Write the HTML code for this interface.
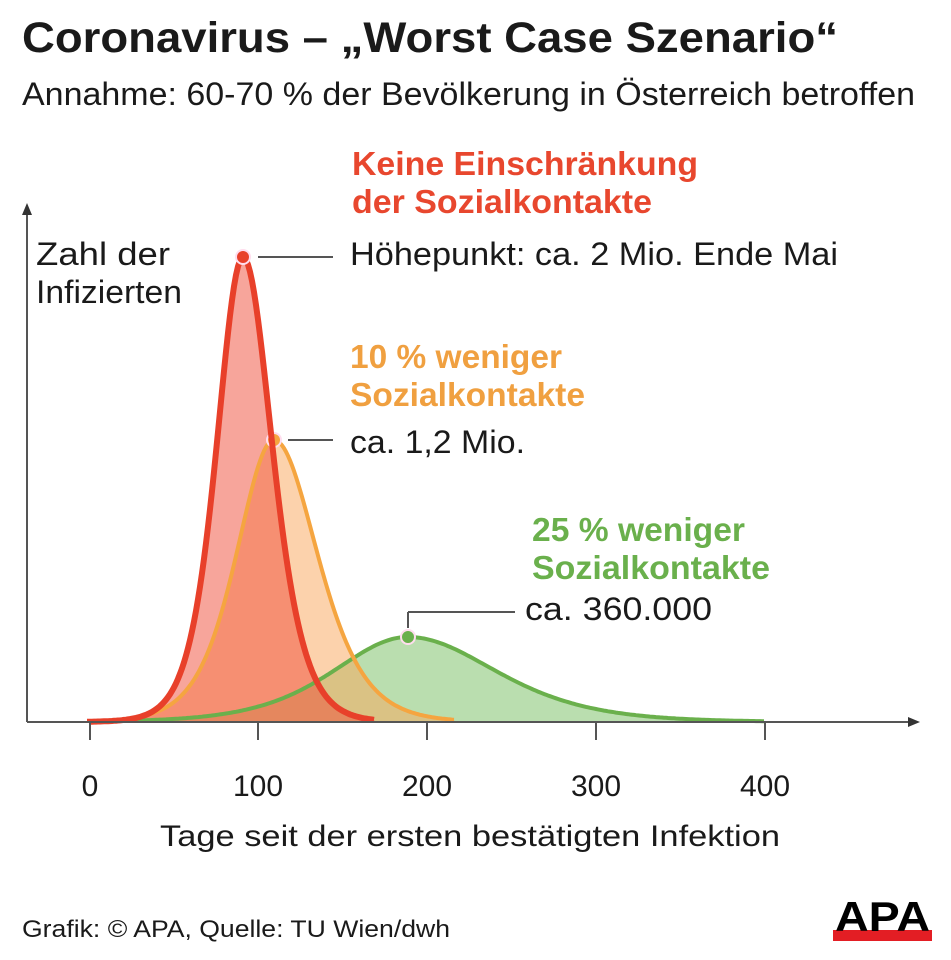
<!DOCTYPE html>
<html><head><meta charset="utf-8"><style>
body{margin:0;background:#fff;}
svg{display:block;font-family:"Liberation Sans",sans-serif;}
</style></head><body>
<svg id="s" width="951" height="960" viewBox="0 0 951 960">
<text x="22" y="52" font-size="43" font-weight="bold" fill="#1a1a1a" textLength="816" lengthAdjust="spacingAndGlyphs">Coronavirus – „Worst Case Szenario“</text>
<text x="22" y="105" font-size="32" fill="#1a1a1a" textLength="893" lengthAdjust="spacingAndGlyphs">Annahme: 60-70 % der Bevölkerung in Österreich betroffen</text>
<text x="352" y="175" font-size="33" font-weight="bold" fill="#e8472e" textLength="346" lengthAdjust="spacingAndGlyphs">Keine Einschränkung</text>
<text x="352" y="213" font-size="33" font-weight="bold" fill="#e8472e" textLength="300" lengthAdjust="spacingAndGlyphs">der Sozialkontakte</text>
<text x="350" y="265" font-size="32" fill="#1a1a1a" textLength="488" lengthAdjust="spacingAndGlyphs">Höhepunkt: ca. 2 Mio. Ende Mai</text>
<text x="36" y="265" font-size="32" fill="#1a1a1a" textLength="134" lengthAdjust="spacingAndGlyphs">Zahl der</text>
<text x="36" y="303" font-size="32" fill="#1a1a1a" textLength="146" lengthAdjust="spacingAndGlyphs">Infizierten</text>
<text x="350" y="368" font-size="33" font-weight="bold" fill="#f0a040" textLength="212" lengthAdjust="spacingAndGlyphs">10 % weniger</text>
<text x="350" y="406" font-size="33" font-weight="bold" fill="#f0a040" textLength="235" lengthAdjust="spacingAndGlyphs">Sozialkontakte</text>
<text x="350" y="453" font-size="32" fill="#1a1a1a" textLength="175" lengthAdjust="spacingAndGlyphs">ca. 1,2 Mio.</text>
<text x="532" y="541" font-size="33" font-weight="bold" fill="#6ab04c" textLength="213" lengthAdjust="spacingAndGlyphs">25 % weniger</text>
<text x="532" y="579" font-size="33" font-weight="bold" fill="#6ab04c" textLength="238" lengthAdjust="spacingAndGlyphs">Sozialkontakte</text>
<text x="525" y="620" font-size="32" fill="#1a1a1a" textLength="187" lengthAdjust="spacingAndGlyphs">ca. 360.000</text>
<g id="curves"></g>
<g stroke="#555" stroke-width="2" fill="none">
<line x1="27" y1="722" x2="915" y2="722"/>
<line x1="27" y1="722" x2="27" y2="210"/>
<line x1="90" y1="722" x2="90" y2="740"/><line x1="258" y1="722" x2="258" y2="740"/>
<line x1="427" y1="722" x2="427" y2="740"/><line x1="596" y1="722" x2="596" y2="740"/>
<line x1="765" y1="722" x2="765" y2="740"/>
<line x1="258" y1="257" x2="333" y2="257"/>
<line x1="288" y1="440" x2="333" y2="440"/>
<line x1="408" y1="628" x2="408" y2="612"/><line x1="408" y1="612" x2="515" y2="612"/>
</g>
<polygon points="27,203 22,215 32,215" fill="#333"/>
<polygon points="920,722 908,717 908,727" fill="#333"/>
<g font-size="30" fill="#1a1a1a" text-anchor="middle">
<text x="90" y="796">0</text><text x="258" y="796">100</text><text x="427" y="796">200</text>
<text x="596" y="796">300</text><text x="765" y="796">400</text>
<text x="470" y="846" textLength="620" lengthAdjust="spacingAndGlyphs">Tage seit der ersten bestätigten Infektion</text>
</g>
<text x="22" y="937" font-size="24" fill="#1a1a1a" textLength="428" lengthAdjust="spacingAndGlyphs">Grafik: © APA, Quelle: TU Wien/dwh</text>
<rect x="833" y="930" width="99" height="11" fill="#e31e24"/>
<text x="835" y="931" font-size="42" font-weight="bold" fill="#000" textLength="95" lengthAdjust="spacingAndGlyphs">APA</text>
</svg>
<script>
function sech2(u){var c=Math.cosh(u);return 1/(c*c);}
function path(x0,x1,px,amp,sl,sr){var d="M"+x0+",722";for(var x=x0;x<=x1;x+=2){var s=x<px?sl:sr;var y=722-amp*sech2((x-px)/s);d+=" L"+x+","+y.toFixed(1);}return d;}
var g=document.getElementById("curves"),ns="http://www.w3.org/2000/svg";
var C=[[90,765,408,85,100,118,"rgba(130,195,110,0.55)","#6ab04c"],[90,455,274,282,50,58,"rgba(250,165,90,0.5)","#f5a540"],[90,375,243,465,35,39,"rgba(240,75,55,0.5)","#e8402a"]];
C.forEach(function(c){var d=path(c[0],c[1],c[2],c[3],c[4],c[5]);
var f=document.createElementNS(ns,"path");f.setAttribute("d",d+" L"+c[1]+",722 Z");f.setAttribute("fill",c[6]);g.appendChild(f);});
C.forEach(function(c){var d=path(c[0],c[1],c[2],c[3],c[4],c[5]);
var l=document.createElementNS(ns,"path");l.setAttribute("d",d);l.setAttribute("fill","none");l.setAttribute("stroke",c[7]);l.setAttribute("stroke-width",c[7]=="#e8402a"?6:4);g.appendChild(l);
var k=document.createElementNS(ns,"circle");k.setAttribute("cx",c[2]);k.setAttribute("cy",722-c[3]);k.setAttribute("r",7);k.setAttribute("fill",c[7]);k.setAttribute("stroke","#fde");k.setAttribute("stroke-width",2);g.appendChild(k);});
</script>
</body></html>
